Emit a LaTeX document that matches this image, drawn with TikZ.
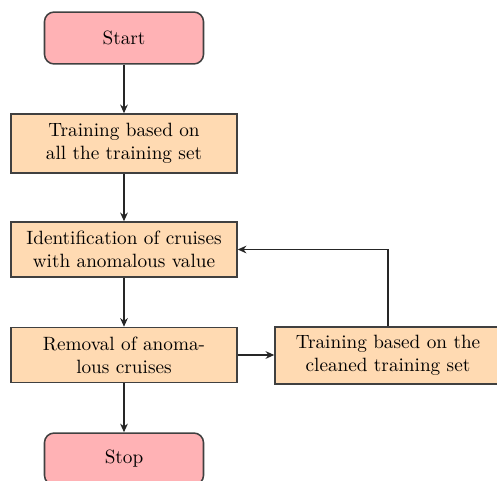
\documentclass[tikz,border=0pt]{standalone}
\usetikzlibrary{arrows.meta}
\definecolor{startpink}{RGB}{255,178,181}
\definecolor{procorange}{RGB}{255,218,178}
\tikzset{
  startstop/.style={rectangle, rounded corners=5pt, draw=black!75, thick, fill=startpink,
    minimum width=82.7pt, minimum height=27pt, inner sep=0pt, align=center},
  process/.style={rectangle, draw=black!75, thick, fill=procorange,
    minimum width=117.5pt, inner sep=0pt, align=center},
  arrowline/.style={line width=0.7pt, draw=black!85, -{Stealth[length=4.5pt,width=4pt]}}
}
\begin{document}
\begin{tikzpicture}[x=0.52pt,y=-0.52pt]
\useasboundingbox (0,0) rectangle (497,481);
\node[startstop] (start) at (124,38) {Start};
\node[process, minimum height=30.7pt] (train) at (124,143.5) {Training based on\\all the training set};
\node[process, minimum height=28.6pt] (ident) at (124,249.5) {Identification of cruises\\with anomalous value};
\node[process, minimum height=28.6pt] (remov) at (124,355) {Removal of anoma-\\lous cruises};
\node[process, minimum height=29.6pt] (clean) at (388,355.5) {Training based on the\\cleaned training set};
\node[startstop] (stop) at (124,459) {Stop};
\coordinate (corner) at (388,249.5);
\draw[arrowline] (start) -- (train);
\draw[arrowline] (train) -- (ident);
\draw[arrowline] (ident) -- (remov);
\draw[arrowline] (remov) -- (stop);
\draw[arrowline] (remov.east) -- (remov.east -| clean.west);
\draw[arrowline] (clean.north) -- (corner) -- (ident.east);
\end{tikzpicture}
\end{document}
